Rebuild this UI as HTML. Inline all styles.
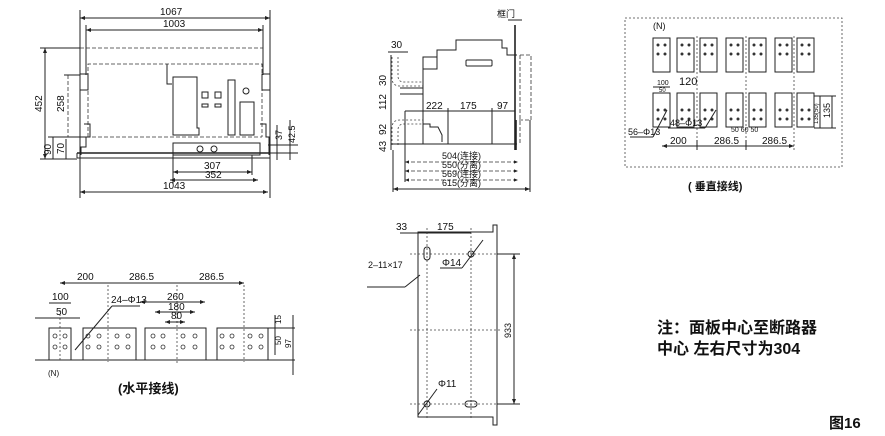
<!DOCTYPE html>
<html><head><meta charset="utf-8"><style>
html,body{margin:0;padding:0;background:#fff;}
svg{display:block}
text{font-family:"Liberation Sans","Noto Sans CJK SC",sans-serif;fill:#111}
.l{stroke:#222;stroke-width:1;fill:none}
.t{stroke:#222;stroke-width:1.6;fill:none}
.d{stroke:#333;stroke-width:0.8;fill:none;stroke-dasharray:4 2}
.dd{stroke:#444;stroke-width:0.8;fill:none;stroke-dasharray:2 2}
.b{font-weight:bold}
</style></head><body>
<svg width="885" height="436" viewBox="0 0 885 436" font-size="9">
<defs>
<marker id="a" markerWidth="6" markerHeight="6" refX="5" refY="3" orient="auto-start-reverse"><path d="M0,1 L5,3 L0,5z" fill="#222"/></marker>
</defs>

<!-- ===== Front view ===== -->
<g>
<line class="l" x1="80" y1="10" x2="80" y2="198"/>
<line class="l" x1="270" y1="10" x2="270" y2="198"/>
<line class="l" x1="86" y1="25" x2="86" y2="75"/>
<line class="l" x1="263" y1="25" x2="263" y2="75"/>
<line class="l" x1="80" y1="18" x2="270" y2="18" marker-start="url(#a)" marker-end="url(#a)"/>
<text x="160" y="15" style="font-size:10px">1067</text>
<line class="l" x1="86" y1="30" x2="263" y2="30" marker-start="url(#a)" marker-end="url(#a)"/>
<text x="163" y="27" style="font-size:10px">1003</text>
<line class="d" x1="80" y1="48" x2="263" y2="48"/>
<path class="d" d="M88,137 V64 H262 V137"/>
<line class="d" x1="80" y1="137" x2="262" y2="137"/>
<rect class="l" x="80" y="74" width="8" height="16"/>
<rect class="l" x="262" y="74" width="8" height="16"/>
<path class="l" d="M84,124 H90 V137 H86 V147 H81 V155"/>
<path class="l" d="M260,124 H266 V137 H269 V155"/>
<path class="l" d="M167,64 V84 H172"/>
<path class="l" d="M173,77 H197 V128 H199 V135 H173 Z"/>
<rect class="l" x="202" y="92" width="6" height="6"/><rect class="l" x="215" y="92" width="6" height="6"/>
<rect class="l" x="202" y="104" width="6" height="3"/><rect class="l" x="215" y="104" width="6" height="3"/>
<rect class="l" x="228" y="80" width="7" height="55"/>
<circle class="l" cx="246" cy="91" r="3"/>
<rect class="l" x="240" y="102" width="14" height="33"/>
<rect class="l" x="173" y="143" width="87" height="12"/>
<circle class="l" cx="200" cy="149" r="3"/><circle class="l" cx="214" cy="149" r="3"/>
<line class="t" x1="77" y1="153" x2="270" y2="153" stroke-width="2"/>
<line class="l" x1="77" y1="158" x2="270" y2="158"/>
<line class="l" x1="77" y1="153" x2="77" y2="158"/>
<line class="l" x1="173" y1="155" x2="173" y2="184"/><line class="l" x1="252" y1="155" x2="252" y2="175"/>
<line class="l" x1="173" y1="172" x2="252" y2="172" marker-start="url(#a)" marker-end="url(#a)"/><text x="204" y="169" style="font-size:10px">307</text>
<line class="l" x1="170" y1="180" x2="258" y2="180" marker-start="url(#a)" marker-end="url(#a)"/><text x="205" y="178" style="font-size:10px">352</text>
<line class="l" x1="80" y1="192" x2="268" y2="192" marker-start="url(#a)" marker-end="url(#a)"/><text x="163" y="189" style="font-size:10px">1043</text>
<line class="l" x1="40" y1="48" x2="80" y2="48"/><line class="l" x1="40" y1="159" x2="77" y2="159"/>
<line class="l" x1="45" y1="48" x2="45" y2="159" marker-start="url(#a)" marker-end="url(#a)"/>
<text transform="translate(42,112) rotate(-90)" style="font-size:10px">452</text>
<line class="d" x1="68" y1="75" x2="68" y2="137"/>
<line class="l" x1="64" y1="75" x2="80" y2="75"/>
<text transform="translate(64,112) rotate(-90)" style="font-size:10px">258</text>
<line class="l" x1="53" y1="137" x2="53" y2="159"/><line class="l" x1="66" y1="139" x2="66" y2="159"/>
<line class="l" x1="48" y1="137" x2="88" y2="137"/>
<text transform="translate(51,155) rotate(-90)" style="font-size:10px">90</text>
<text transform="translate(64,154) rotate(-90)" style="font-size:10px">70</text>
<line class="l" x1="277" y1="125" x2="277" y2="160"/><line class="l" x1="290" y1="120" x2="290" y2="160"/>
<line class="l" x1="268" y1="145" x2="298" y2="145"/><line class="l" x1="268" y1="153" x2="298" y2="153"/>
<text transform="translate(282,140) rotate(-90)">37</text>
<text transform="translate(295,143) rotate(-90)">42.5</text>
</g>

<!-- ===== Side view ===== -->
<g>
<text x="497" y="17">框门</text>
<line class="l" x1="508" y1="20" x2="522" y2="20"/>
<path class="l" d="M423,144 V57 H437 V50 H456 V40 H502 V48 H507 V55 H517"/>
<rect class="l" x="423" y="57" width="14" height="12"/>
<rect class="l" x="466" y="60" width="26" height="6" rx="1"/>
<line class="t" x1="515" y1="25" x2="515" y2="150" stroke-width="2.5"/>
<line class="t" x1="516" y1="120" x2="516" y2="150" stroke-width="4"/>
<line class="d" x1="520" y1="55" x2="520" y2="145"/>
<path class="d" d="M520,55 H531 V120 H518"/>
<path class="dd" d="M392,57 V78 Q392,86 400,86 H423 M398,57 V76 Q398,82 404,82 H423"/>
<path class="dd" d="M392,145 V128 Q392,120 400,120 H423 M398,145 V130 Q398,124 404,124 H423"/>
<path class="l" d="M423,124 H430 V127 H438 L442,135 V142"/>
<line class="l" x1="400" y1="88" x2="423" y2="88"/><line class="l" x1="400" y1="94" x2="423" y2="94"/>
<line class="l" x1="392" y1="144" x2="517" y2="144"/>
<line class="l" x1="388" y1="52" x2="408" y2="52" /><text x="391" y="48" style="font-size:10px">30</text>
<line class="l" x1="391" y1="55" x2="391" y2="150"/>
<text transform="translate(386,86) rotate(-90)" style="font-size:10px">30</text>
<text transform="translate(386,110) rotate(-90)" style="font-size:10px">112</text>
<text transform="translate(386,135) rotate(-90)" style="font-size:10px">92</text>
<text transform="translate(386,152) rotate(-90)" style="font-size:10px">43</text>
<line class="l" x1="405" y1="111" x2="515" y2="111"/>
<line class="l" x1="448" y1="108" x2="448" y2="144"/><line class="l" x1="492" y1="108" x2="492" y2="144"/>
<text x="426" y="109" style="font-size:10px">222</text><text x="460" y="109" style="font-size:10px">175</text><text x="497" y="109" style="font-size:10px">97</text>
<line class="l" x1="405" y1="111" x2="405" y2="182"/><line class="l" x1="393" y1="150" x2="393" y2="192"/><line class="l" x1="530" y1="120" x2="530" y2="192"/>
<line class="d" x1="405" y1="162" x2="518" y2="162" marker-start="url(#a)" marker-end="url(#a)"/><text x="442" y="159" style="font-size:9px">504(连接)</text>
<line class="d" x1="405" y1="171" x2="518" y2="171" marker-start="url(#a)" marker-end="url(#a)"/><text x="442" y="168" style="font-size:9px">550(分离)</text>
<line class="d" x1="405" y1="180" x2="518" y2="180" marker-start="url(#a)" marker-end="url(#a)"/><text x="442" y="177" style="font-size:9px">569(连接)</text>
<line class="l" x1="393" y1="189" x2="530" y2="189" marker-start="url(#a)" marker-end="url(#a)"/><text x="442" y="186" style="font-size:9px">615(分离)</text>
</g>

<!-- ===== Vertical connection box ===== -->
<g>
<rect class="dd" x="625" y="18" width="217" height="149"/>
<text x="653" y="29">(N)</text>
<g id="bars">
<rect class="l" x="653" y="38" width="17" height="34"/><rect class="l" x="677" y="38" width="17" height="34"/><rect class="l" x="700" y="38" width="17" height="34"/>
<rect class="l" x="726" y="38" width="17" height="34"/><rect class="l" x="749" y="38" width="17" height="34"/>
<rect class="l" x="775" y="38" width="17" height="34"/><rect class="l" x="797" y="38" width="17" height="34"/>
</g>
<use href="#bars" y="55"/>
<g fill="#333">
<circle cx="658" cy="45" r="1.5"/><circle cx="665" cy="45" r="1.5"/><circle cx="658" cy="54" r="1.5"/><circle cx="665" cy="54" r="1.5"/>
<circle cx="682" cy="45" r="1.5"/><circle cx="689" cy="45" r="1.5"/><circle cx="682" cy="54" r="1.5"/><circle cx="689" cy="54" r="1.5"/>
<circle cx="705" cy="45" r="1.5"/><circle cx="712" cy="45" r="1.5"/><circle cx="705" cy="54" r="1.5"/><circle cx="712" cy="54" r="1.5"/>
<circle cx="731" cy="45" r="1.5"/><circle cx="738" cy="45" r="1.5"/><circle cx="731" cy="54" r="1.5"/><circle cx="738" cy="54" r="1.5"/>
<circle cx="754" cy="45" r="1.5"/><circle cx="761" cy="45" r="1.5"/><circle cx="754" cy="54" r="1.5"/><circle cx="761" cy="54" r="1.5"/>
<circle cx="780" cy="45" r="1.5"/><circle cx="787" cy="45" r="1.5"/><circle cx="780" cy="54" r="1.5"/><circle cx="787" cy="54" r="1.5"/>
<circle cx="802" cy="45" r="1.5"/><circle cx="809" cy="45" r="1.5"/><circle cx="802" cy="54" r="1.5"/><circle cx="809" cy="54" r="1.5"/>
<circle cx="658" cy="110" r="1.5"/><circle cx="665" cy="110" r="1.5"/><circle cx="658" cy="119" r="1.5"/><circle cx="665" cy="119" r="1.5"/>
<circle cx="682" cy="110" r="1.5"/><circle cx="689" cy="110" r="1.5"/><circle cx="682" cy="119" r="1.5"/><circle cx="689" cy="119" r="1.5"/>
<circle cx="705" cy="110" r="1.5"/><circle cx="712" cy="110" r="1.5"/><circle cx="705" cy="119" r="1.5"/><circle cx="712" cy="119" r="1.5"/>
<circle cx="731" cy="110" r="1.5"/><circle cx="738" cy="110" r="1.5"/><circle cx="731" cy="119" r="1.5"/><circle cx="738" cy="119" r="1.5"/>
<circle cx="754" cy="110" r="1.5"/><circle cx="761" cy="110" r="1.5"/><circle cx="754" cy="119" r="1.5"/><circle cx="761" cy="119" r="1.5"/>
<circle cx="780" cy="110" r="1.5"/><circle cx="787" cy="110" r="1.5"/><circle cx="780" cy="119" r="1.5"/><circle cx="787" cy="119" r="1.5"/>
<circle cx="802" cy="110" r="1.5"/><circle cx="809" cy="110" r="1.5"/><circle cx="802" cy="119" r="1.5"/><circle cx="809" cy="119" r="1.5"/>
</g>
<line class="dd" x1="697" y1="36" x2="697" y2="150"/><line class="dd" x1="746" y1="36" x2="746" y2="150"/><line class="dd" x1="794" y1="36" x2="794" y2="150"/>
<line class="l" x1="653" y1="87" x2="670" y2="87"/><text x="657" y="85" style="font-size:7px">100</text>
<text x="659" y="92" style="font-size:6px">50</text>
<text x="679" y="85" style="font-size:11px">120</text>
<line class="l" x1="630" y1="137" x2="653" y2="137"/><line class="l" x1="653" y1="137" x2="667" y2="110"/>
<text x="628" y="135" style="font-size:9px">56–Φ13</text>
<line class="l" x1="668" y1="128" x2="705" y2="128"/><line class="l" x1="705" y1="128" x2="716" y2="110"/>
<text x="670" y="126" style="font-size:9px">48–Φ13</text>
<line class="l" x1="662" y1="146" x2="794" y2="146" marker-start="url(#a)" marker-end="url(#a)"/>
<line class="l" x1="697" y1="140" x2="697" y2="150"/><line class="l" x1="746" y1="140" x2="746" y2="150"/>
<text x="670" y="144" style="font-size:10px">200</text><text x="714" y="144" style="font-size:10px">286.5</text><text x="762" y="144" style="font-size:10px">286.5</text>
<text x="731" y="132" style="font-size:7px">50 60 50</text>
<line class="l" x1="814" y1="96" x2="836" y2="96"/><line class="l" x1="814" y1="128" x2="836" y2="128"/>
<line class="l" x1="820" y1="96" x2="820" y2="128"/><line class="l" x1="832" y1="96" x2="832" y2="128"/>
<text transform="translate(818,124) rotate(-90)" style="font-size:6px">135(50)</text>
<text transform="translate(830,118) rotate(-90)" style="font-size:9px">135</text>
<text x="688" y="190" class="b" style="font-size:11px">( 垂直接线)</text>
</g>

<!-- ===== Horizontal connection ===== -->
<g>
<rect class="l" x="49" y="328" width="22" height="32"/>
<rect class="l" x="83" y="328" width="53" height="32"/>
<rect class="l" x="145" y="328" width="61" height="32"/>
<rect class="l" x="217" y="328" width="51" height="32"/>
<line class="l" x1="35" y1="360" x2="295" y2="360"/>
<g fill="none" stroke="#333" stroke-width="0.8">
<circle cx="55" cy="336" r="2"/><circle cx="65" cy="336" r="2"/><circle cx="55" cy="347" r="2"/><circle cx="65" cy="347" r="2"/>
<circle cx="88" cy="336" r="2"/><circle cx="99" cy="336" r="2"/><circle cx="88" cy="347" r="2"/><circle cx="99" cy="347" r="2"/>
<circle cx="117" cy="336" r="2"/><circle cx="128" cy="336" r="2"/><circle cx="117" cy="347" r="2"/><circle cx="128" cy="347" r="2"/>
<circle cx="153" cy="336" r="2"/><circle cx="163" cy="336" r="2"/><circle cx="153" cy="347" r="2"/><circle cx="163" cy="347" r="2"/>
<circle cx="183" cy="336" r="2"/><circle cx="195" cy="336" r="2"/><circle cx="183" cy="347" r="2"/><circle cx="195" cy="347" r="2"/>
<circle cx="222" cy="336" r="2"/><circle cx="232" cy="336" r="2"/><circle cx="222" cy="347" r="2"/><circle cx="232" cy="347" r="2"/>
<circle cx="250" cy="336" r="2"/><circle cx="261" cy="336" r="2"/><circle cx="250" cy="347" r="2"/><circle cx="261" cy="347" r="2"/>
</g>
<line class="dd" x1="60" y1="310" x2="60" y2="362"/><line class="dd" x1="108" y1="285" x2="108" y2="362"/>
<line class="dd" x1="177" y1="285" x2="177" y2="365"/><line class="dd" x1="244" y1="285" x2="244" y2="362"/>
<line class="l" x1="60" y1="283" x2="244" y2="283" marker-start="url(#a)" marker-end="url(#a)"/>
<text x="77" y="280" style="font-size:10px">200</text><text x="129" y="280" style="font-size:10px">286.5</text><text x="199" y="280" style="font-size:10px">286.5</text>
<line class="l" x1="49" y1="303" x2="71" y2="303"/><text x="52" y="300" style="font-size:10px">100</text>
<line class="l" x1="35" y1="318" x2="80" y2="318"/><text x="56" y="315" style="font-size:10px">50</text>
<line class="l" x1="140" y1="302" x2="205" y2="302" marker-start="url(#a)" marker-end="url(#a)"/><text x="167" y="300" style="font-size:10px">260</text>
<line class="l" x1="155" y1="312" x2="195" y2="312" marker-start="url(#a)" marker-end="url(#a)"/><text x="168" y="310" style="font-size:10px">180</text>
<line class="l" x1="165" y1="322" x2="185" y2="322" marker-start="url(#a)" marker-end="url(#a)"/><text x="171" y="319" style="font-size:10px">80</text>
<line class="l" x1="112" y1="306" x2="140" y2="306"/><line class="l" x1="112" y1="306" x2="75" y2="350"/>
<text x="111" y="303" style="font-size:10px">24–Φ13</text>
<line class="l" x1="268" y1="328" x2="295" y2="328"/>
<line class="l" x1="275" y1="315" x2="275" y2="355"/><line class="l" x1="293" y1="315" x2="293" y2="375"/>
<text transform="translate(281,324) rotate(-90)" style="font-size:8px">15</text>
<text transform="translate(281,345) rotate(-90)" style="font-size:8px">50</text>
<text transform="translate(291,348) rotate(-90)" style="font-size:8px">97</text>
<text x="48" y="376" style="font-size:8px">(N)</text>
<text x="118" y="393" class="b" style="font-size:13px">(水平接线)</text>
</g>

<!-- ===== Mounting plate ===== -->
<g>
<path class="l" d="M418,417 V232 H493 V225 H497 V425 H493 V417 Z"/>
<line class="dd" x1="427" y1="228" x2="427" y2="420"/>
<line class="dd" x1="471" y1="228" x2="471" y2="420"/>
<line class="dd" x1="410" y1="254" x2="500" y2="254"/>
<line class="dd" x1="410" y1="330" x2="500" y2="330"/>
<line class="dd" x1="410" y1="404" x2="500" y2="404"/>
<rect class="l" x="424" y="247" width="6" height="13" rx="3"/>
<circle class="l" cx="471" cy="254" r="3"/>
<circle class="l" cx="427" cy="404" r="3"/>
<rect class="l" x="465" y="401" width="12" height="6" rx="3"/>
<line class="l" x1="497" y1="254" x2="520" y2="254"/><line class="l" x1="497" y1="404" x2="520" y2="404"/>
<line class="l" x1="514" y1="254" x2="514" y2="404" marker-start="url(#a)" marker-end="url(#a)"/>
<text transform="translate(511,338) rotate(-90)" style="font-size:9px">933</text>
<line class="l" x1="400" y1="233" x2="471" y2="233"/>
<text x="396" y="230" style="font-size:10px">33</text><text x="437" y="230" style="font-size:10px">175</text>
<text x="368" y="268" style="font-size:9px">2–11×17</text>
<line class="l" x1="367" y1="287" x2="405" y2="287"/><line class="l" x1="405" y1="287" x2="420" y2="275"/>
<text x="442" y="266" style="font-size:10px">Φ14</text>
<line class="l" x1="440" y1="268" x2="462" y2="268"/><line class="l" x1="462" y1="268" x2="483" y2="240"/>
<text x="438" y="387" style="font-size:10px">Φ11</text>
<line class="l" x1="437" y1="389" x2="418" y2="415"/>
</g>

<text x="657" y="333" class="b" style="font-size:16px">注：面板中心至断路器</text>
<text x="657" y="354" class="b" style="font-size:16px">中心 左右尺寸为304</text>
<text x="829" y="428" class="b" style="font-size:15px">图16</text>
</svg>
</body></html>
